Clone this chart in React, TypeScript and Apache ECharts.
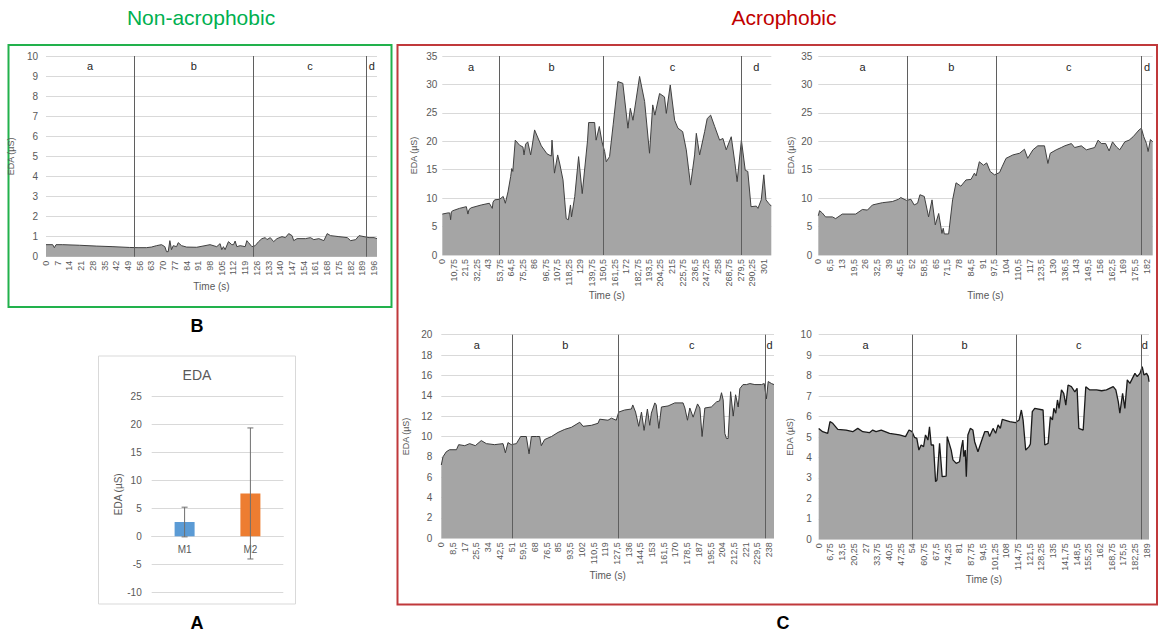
import React, { useEffect, useRef } from "react";
import * as echarts from "echarts";

// ---------- DATA ----------
const phaseNames = ["a", "b", "c", "d"];

// Non-acrophobic subject: [time s, EDA µS]
const nonAcroData: [number, number][] = [
  [0, 0.6], [4, 0.6], [5, 0.45], [6, 0.6], [10, 0.6], [20, 0.57], [30, 0.53], [40, 0.5], [50, 0.46],
  [55, 0.45], [60, 0.45], [63, 0.48], [66, 0.55], [69, 0.6], [71, 0.5], [72, 0.25], [73, 0.25],
  [74, 0.8], [75, 0.35], [76, 0.55], [78, 0.5], [79, 0.7], [81, 0.55], [84, 0.48], [90, 0.47],
  [95, 0.55], [98, 0.6], [102, 0.5], [104, 0.65], [105, 0.35], [106, 0.5], [107, 0.35], [109, 0.75],
  [111, 0.6], [112, 0.6], [113, 0.78], [114, 0.5], [116, 0.55], [119, 0.5], [120, 0.8], [121, 0.7],
  [123, 0.5], [125, 0.55], [127, 0.75], [129, 0.9], [131, 0.95], [132, 0.85], [134, 0.95], [136, 0.75],
  [138, 0.9], [141, 1.0], [143, 0.95], [145, 1.15], [147, 1.05], [148, 0.8], [150, 0.9], [155, 0.9],
  [158, 0.95], [160, 0.85], [163, 0.9], [166, 0.8], [168, 1.15], [170, 1.05], [175, 1.0], [180, 0.95],
  [182, 0.8], [185, 0.85], [187, 1.05], [190, 1.0], [193, 0.95], [196, 0.95], [197.75, 0.9],
];
const nonAcroPhases = [52.5, 124, 191.5];

// Acrophobic subject 1
const acro1Data: [number, number][] = [
  [0, 7.2], [5.3, 7.4], [7, 7.4], [7.8, 6.2], [8.5, 7.6], [10, 7.8], [16, 8.2], [22.5, 8.5], [24, 7.2],
  [25, 8.0], [27, 8.3], [36.5, 8.8], [44, 9.1], [46.8, 8.2], [47.5, 9.3], [49, 9.7], [53.7, 9.8],
  [57, 10.3], [59, 9.1], [61.5, 11.1], [64, 13.8], [65, 15.2], [66, 14.7], [68.3, 20.2], [72.4, 19.3],
  [75.5, 19.0], [76.5, 17.6], [78, 19.5], [80, 19.9], [82.7, 17.6], [84, 19], [86.4, 22], [92.7, 19.2],
  [98, 17.8], [102, 17.4], [102.7, 20.2], [105, 14.4], [108, 17.6], [110, 16], [113, 13.2], [116, 6.4],
  [118, 6.2], [120, 8.8], [121, 6.7], [124, 10.3], [127.6, 17.3], [131, 10.8], [136, 20.2], [137, 23.3],
  [142.6, 23.3], [144, 20.2], [147, 22.6], [149.5, 19.9], [152, 18.2], [153.5, 16.4], [156.6, 17.3],
  [160, 23], [164.4, 30.5], [169, 30.2], [173.8, 22.3], [176, 25.8], [178.5, 23.7], [184.7, 31.4],
  [189.4, 27], [194, 17.9], [197, 26.4], [199, 24.6], [203.4, 28.4], [208, 27.8], [209.7, 24.9],
  [213.4, 29.9], [217.5, 23.7], [220.6, 22.3], [225, 21.7], [228.4, 18.5], [232.4, 12.3], [236.2, 17.6],
  [237.8, 21.4], [240.9, 17.6], [245.6, 21.7], [248, 24], [251.2, 24.6], [255, 22.6], [259.6, 20.2],
  [262.7, 20.5], [265.8, 18.5], [270.5, 20.8], [274, 16.1], [276, 12.9], [280, 20.2], [283.6, 14.9],
  [286, 14.7], [289, 8.5], [294, 8.6], [295.5, 8.2], [298.6, 9.7], [301, 14.1], [303, 9.7], [305.5, 9.1],
  [308, 8.6],
];
const acro1Phases = [53.75, 151, 280];

// Acrophobic subject 2
const acro2Data: [number, number][] = [
  [0, 6.9], [0.7, 7.8], [2.2, 7.4], [4, 6.7], [7.8, 6.7], [9.6, 6.4], [13.3, 7.2], [20.7, 7.2], [24.4, 8],
  [27.2, 7.9], [30, 8.8], [35.5, 9.2], [41, 9.4], [44.4, 9.8], [45.7, 10.1], [48.9, 9.6], [51.3, 9.8],
  [53.1, 8.8], [55, 9.1], [56.3, 10.6], [58.7, 10.3], [61.1, 6.7], [63, 9.7], [64.8, 5.3], [66.7, 7.3],
  [68.5, 3.8], [69.2, 4.7], [69.8, 3.7], [72.2, 3.7], [74.4, 9.7], [76.3, 12.7], [79, 12.1], [81.8, 13.2],
  [84.6, 13.3], [86.5, 14.4], [87.4, 13.9], [89.2, 16.4], [91.5, 15.8], [93.3, 16.2], [95.2, 14.7],
  [97.6, 14.1], [100.4, 14.5], [101.8, 15.5], [104, 17], [107.8, 17.6], [111.5, 17.9], [114.2, 18.6],
  [116, 17], [118.9, 18.5], [121.6, 19.2], [125.3, 19.2], [127.2, 16.1], [128.5, 17.9], [131.8, 18.5],
  [134.6, 18.9], [136.5, 19.2], [140.2, 19.6], [142, 18.9], [145.7, 19.2], [148.5, 18.5], [153.1, 18.9],
  [155, 20.2], [156.8, 19.6], [159.2, 19.6], [161.1, 18.3], [163, 19.9], [165.2, 19], [167, 18.5],
  [169.8, 19.9], [172.2, 20.2], [174.4, 20.8], [177.7, 22], [179, 22.3], [180.3, 20.8], [181.8, 19.6],
  [182.7, 18.2], [184, 20.3], [185.25, 19.9],
];
const acro2Phases = [49, 98.5, 179];

// Acrophobic subject 3
const acro3Data: [number, number][] = [
  [0, 7.2], [1.2, 8.0], [3.6, 8.5], [6, 8.7], [11, 8.7], [12.6, 9.2], [17, 9.1], [20.6, 9.3], [24.7, 9.1],
  [29, 9.6], [32.7, 9.3], [38.7, 9.2], [44.8, 9.3], [46.5, 8.4], [48.4, 9.4], [50.8, 9.2], [54.5, 9.3],
  [57.6, 10.0], [61.7, 10.0], [63.7, 8.3], [65.4, 10.0], [69, 10.0], [71.4, 10.0], [72.6, 9.1], [75, 9.7],
  [80, 10.0], [84.7, 10.4], [89.6, 10.7], [94.4, 10.9], [100.5, 11.4], [102.9, 11.0], [109, 11.1],
  [113.8, 11.3], [115, 11.7], [121, 11.6], [123.5, 11.8], [127, 11.6], [128.8, 12.4], [133, 12.6],
  [138, 12.7], [139, 13.1], [141, 12.4], [143.3, 11.0], [145.3, 12.4], [147.2, 10.6], [149.6, 12.7],
  [151.3, 11.1], [152.5, 12.3], [155, 13.3], [156, 13.1], [157.9, 10.8], [159.8, 12.9], [164.6, 13.0],
  [169.5, 13.3], [175.5, 13.3], [176.8, 12.8], [178.7, 11.6], [180.4, 12.8], [182.8, 11.9], [186, 13.2],
  [187.7, 12.8], [189.3, 10.0], [191.3, 12.8], [196, 12.9], [199.8, 13.4], [202, 13.5], [203.4, 14.3],
  [204.6, 13.6], [205.8, 10.3], [207, 9.8], [208.2, 9.8], [210, 14.4], [211.9, 12.0], [213.6, 14.1],
  [215.5, 12.9], [216.7, 14.7], [219, 15.1], [221.5, 15.1], [224, 15.2], [227.6, 15.1], [232.4, 15.1],
  [234.4, 15.2], [236, 13.7], [237.3, 15.4], [239.7, 15.2], [241.5, 15.1],
];
const acro3Phases = [51.5, 128.5, 235];

// Acrophobic subject 4
const acro4Data: [number, number][] = [
  [0, 5.42], [2.3, 5.26], [5.2, 5.18], [6.5, 5.75], [8.1, 5.67], [11, 5.37], [15.8, 5.34], [19.6, 5.26],
  [22.5, 5.42], [25.4, 5.26], [29.2, 5.21], [31.1, 5.34], [33, 5.26], [36, 5.34], [40.8, 5.18], [46.5, 5.1],
  [50, 5.02], [52, 5.34], [53.8, 5.26], [55.2, 4.98], [56.5, 4.93], [57.7, 4.36], [59, 4.61], [60.4, 4.53],
  [61.5, 5.1], [62.9, 4.85], [63.8, 5.5], [64.8, 4.61], [66.1, 4.61], [67.3, 2.82], [68.1, 2.9], [69.6, 4.69],
  [71.1, 3.06], [73.4, 3.09], [74, 5.02], [76.3, 4.36], [77.3, 3.88], [79.2, 3.71], [81.1, 3.79],
  [82.1, 4.45], [83, 4.85], [83.6, 4.04], [84.4, 4.36], [85, 3.06], [85.9, 5.1], [87.3, 5.42], [88.8, 5.34],
  [89.8, 4.77], [91.7, 4.28], [93.6, 4.77], [95.6, 5.26], [97.5, 5.26], [98.4, 5.02], [100.4, 5.42],
  [101.9, 5.18], [103.3, 5.59], [104.6, 5.42], [105.7, 5.86], [110, 5.75], [113.3, 5.7], [115.4, 5.83],
  [116.7, 6.32], [117.7, 5.83], [119.2, 4.36], [121.1, 4.53], [121.9, 4.66], [123, 6.24], [124.4, 6.4],
  [129.2, 6.32], [130.2, 4.61], [132.1, 4.69], [133.4, 5.99], [134.6, 5.83], [135.4, 6.4], [136.5, 6.16],
  [137.5, 6.81], [138.4, 6.4], [139.8, 7.3], [141.1, 7.13], [142.3, 6.56], [143.6, 7.54], [145.5, 7.46],
  [147.5, 7.21], [148.8, 7.38], [149.8, 5.42], [152.3, 5.34], [153.8, 7.46], [156.1, 7.3], [160, 7.3],
  [162.9, 7.26], [165.7, 7.3], [169.6, 7.46], [171.1, 7.3], [172.5, 6.73], [173.4, 6.16], [175, 7.13],
  [176.3, 6.4], [177.7, 7.79], [179.2, 7.62], [182.1, 8.11], [183.4, 7.95], [185, 8.11], [186.3, 8.44],
  [187.3, 8.03], [188.8, 8.11], [189.8, 7.95], [190.2, 7.7],
];
const acro4Phases = [54, 114, 185.5];

// Bar chart (A)
const barCategories = ["M1", "M2"];
const barMeans = [2.55, 7.65];
const barSD = [2.65, 11.7];
const barColors = ["#5b9bd5", "#ed7d31"];

const FONT = "Liberation Sans, Arial, sans-serif";
const LABEL_COLOR = "#595959";

type Panel = {
  data: [number, number][];
  phases: number[];
  xMax: number;
  xStep: number;
  yMax: number;
  yStep: number;
  labelY: number;
  grid: { left: number; top: number; width: number; height: number };
  yMargin: number;
  yNameGap: number;
  xNameGap: number;
  lineColor: string;
  lineWidth: number;
};

export default function App() {
  const ref = useRef<HTMLDivElement>(null);

  useEffect(() => {
    if (!ref.current) return;
    const chart = echarts.init(ref.current, null, { renderer: "svg" });

    const panels: Panel[] = [
      { data: nonAcroData, phases: nonAcroPhases, xMax: 197.75, xStep: 7, yMax: 10, yStep: 1, labelY: 9.5,
        grid: { left: 46, top: 56, width: 331, height: 200.7 }, yMargin: 8, yNameGap: 31, xNameGap: 25,
        lineColor: "#404040", lineWidth: 1 },
      { data: acro1Data, phases: acro1Phases, xMax: 308, xStep: 10.75, yMax: 35, yStep: 5, labelY: 33.1,
        grid: { left: 442.3, top: 56, width: 329, height: 199 }, yMargin: 5, yNameGap: 24, xNameGap: 35,
        lineColor: "#404040", lineWidth: 1 },
      { data: acro2Data, phases: acro2Phases, xMax: 185.25, xStep: 6.5, yMax: 35, yStep: 5, labelY: 33.1,
        grid: { left: 818.3, top: 56, width: 334.4, height: 199 }, yMargin: 6, yNameGap: 23, xNameGap: 35,
        lineColor: "#404040", lineWidth: 1 },
      { data: acro3Data, phases: acro3Phases, xMax: 241.5, xStep: 8.5, yMax: 20, yStep: 2, labelY: 19,
        grid: { left: 441.3, top: 334.7, width: 332.7, height: 203.6 }, yMargin: 9, yNameGap: 31, xNameGap: 32,
        lineColor: "#3a3a3a", lineWidth: 1 },
      { data: acro4Data, phases: acro4Phases, xMax: 190.2, xStep: 6.75, yMax: 10, yStep: 1, labelY: 9.5,
        grid: { left: 818.7, top: 334.7, width: 330.3, height: 204.6 }, yMargin: 7, yNameGap: 24, xNameGap: 31,
        lineColor: "#1a1a1a", lineWidth: 1.3 },
    ];

    const grids: any[] = [];
    const xAxes: any[] = [];
    const yAxes: any[] = [];
    const series: any[] = [];

    panels.forEach((p, i) => {
      grids.push({ ...p.grid, containLabel: false });
      xAxes.push({
        type: "value",
        gridIndex: i,
        min: 0,
        max: p.xMax,
        interval: p.xStep,
        axisLine: { show: false },
        axisTick: { show: false },
        splitLine: { show: false },
        axisLabel: {
          rotate: 90,
          fontSize: 9,
          fontFamily: FONT,
          color: LABEL_COLOR,
          margin: 4,
          showMaxLabel: false,
          formatter: (v: number) => String(v).replace(".", ","),
        },
        name: "Time (s)",
        nameLocation: "middle",
        nameGap: p.xNameGap,
        nameTextStyle: { fontSize: 10, fontFamily: FONT, color: LABEL_COLOR },
      });
      yAxes.push({
        type: "value",
        gridIndex: i,
        min: 0,
        max: p.yMax,
        interval: p.yStep,
        axisLine: { show: false },
        axisTick: { show: false },
        splitLine: { lineStyle: { color: "#d9d9d9", width: 1 } },
        axisLabel: { fontSize: 10, fontFamily: FONT, color: LABEL_COLOR, margin: p.yMargin },
        name: "EDA (µS)",
        nameLocation: "middle",
        nameGap: p.yNameGap,
        nameTextStyle: { fontSize: 9, fontFamily: FONT, color: LABEL_COLOR },
      });
      const bounds = [0, ...p.phases, p.xMax];
      series.push({
        type: "line",
        xAxisIndex: i,
        yAxisIndex: i,
        data: p.data,
        symbol: "none",
        showSymbol: false,
        lineStyle: { color: p.lineColor, width: p.lineWidth },
        areaStyle: { color: "#a5a5a5", opacity: 1 },
        markLine: {
          silent: true,
          symbol: "none",
          label: { show: false },
          lineStyle: { color: "#5f5f5f", width: 1, type: "solid" },
          data: p.phases.map((x) => ({ xAxis: x })),
        },
        markPoint: {
          silent: true,
          symbol: "circle",
          symbolSize: 0,
          label: {
            show: true,
            position: "inside",
            formatter: "{b}",
            fontSize: 11,
            fontFamily: FONT,
            color: "#262626",
          },
          data: phaseNames.map((n, k) => ({
            name: n,
            coord: [(bounds[k] + bounds[k + 1]) / 2, p.labelY],
          })),
        },
      });
    });

    // Bar chart (A)
    const bi = panels.length;
    grids.push({ left: 151.7, top: 396.3, width: 131.6, height: 196, containLabel: false });
    xAxes.push({
      type: "category",
      gridIndex: bi,
      data: barCategories,
      position: "bottom",
      offset: -56,
      axisLine: { show: true, onZero: false, lineStyle: { color: "#d9d9d9" } },
      axisTick: { show: false },
      axisLabel: { fontSize: 10, fontFamily: FONT, color: LABEL_COLOR, margin: 8 },
    });
    yAxes.push({
      type: "value",
      gridIndex: bi,
      min: -10,
      max: 25,
      interval: 5,
      axisLine: { show: false },
      axisTick: { show: false },
      splitLine: { lineStyle: { color: "#d9d9d9" } },
      axisLabel: { fontSize: 10, fontFamily: FONT, color: LABEL_COLOR, margin: 10 },
      name: "EDA (µS)",
      nameLocation: "middle",
      nameGap: 28,
      nameTextStyle: { fontSize: 10, fontFamily: FONT, color: LABEL_COLOR },
    });
    series.push({
      type: "bar",
      xAxisIndex: bi,
      yAxisIndex: bi,
      barWidth: 20,
      data: barMeans.map((v, i) => ({ value: v, itemStyle: { color: barColors[i] } })),
    });
    series.push({
      type: "custom",
      xAxisIndex: bi,
      yAxisIndex: bi,
      z: 5,
      data: barMeans.map((m, i) => [i, m - barSD[i], m + barSD[i]]),
      encode: { x: 0, y: [1, 2] },
      renderItem: (_params: any, api: any) => {
        const idx = api.value(0);
        const top = api.coord([idx, api.value(2)]);
        const bot = api.coord([idx, api.value(1)]);
        const hw = 3;
        const st = { stroke: "#6f6f6f", lineWidth: 1 };
        return {
          type: "group",
          children: [
            { type: "line", shape: { x1: top[0], y1: top[1], x2: bot[0], y2: bot[1] }, style: st },
            { type: "line", shape: { x1: top[0] - hw, y1: top[1], x2: top[0] + hw, y2: top[1] }, style: st },
            { type: "line", shape: { x1: bot[0] - hw, y1: bot[1], x2: bot[0] + hw, y2: bot[1] }, style: st },
          ],
        };
      },
    });

    const graphic: any[] = [
      { type: "rect", silent: true, z: 0, shape: { x: 8.5, y: 45, width: 383, height: 262 },
        style: { fill: "none", stroke: "#22b14c", lineWidth: 2 } },
      { type: "rect", silent: true, z: 0, shape: { x: 397.5, y: 45, width: 759.5, height: 559.5 },
        style: { fill: "none", stroke: "#c0393b", lineWidth: 2 } },
      { type: "rect", silent: true, z: 0, shape: { x: 98.5, y: 356, width: 197, height: 248 },
        style: { fill: "none", stroke: "#d9d9d9", lineWidth: 1 } },
      { type: "text", x: 201, y: 17, style: { text: "Non-acrophobic", align: "center", verticalAlign: "middle",
        fontSize: 21, fontFamily: FONT, fill: "#00b050" } },
      { type: "text", x: 784, y: 17, style: { text: "Acrophobic", align: "center", verticalAlign: "middle",
        fontSize: 21, fontFamily: FONT, fill: "#c00000" } },
      { type: "text", x: 197, y: 326, style: { text: "B", align: "center", verticalAlign: "middle",
        fontSize: 18, fontWeight: "bold", fontFamily: FONT, fill: "#000000" } },
      { type: "text", x: 197, y: 623, style: { text: "A", align: "center", verticalAlign: "middle",
        fontSize: 18, fontWeight: "bold", fontFamily: FONT, fill: "#000000" } },
      { type: "text", x: 783, y: 623, style: { text: "C", align: "center", verticalAlign: "middle",
        fontSize: 18, fontWeight: "bold", fontFamily: FONT, fill: "#000000" } },
      { type: "text", x: 197, y: 375, style: { text: "EDA", align: "center", verticalAlign: "middle",
        fontSize: 14, fontFamily: FONT, fill: LABEL_COLOR } },
    ];

    chart.setOption({
      animation: false,
      backgroundColor: "#ffffff",
      grid: grids,
      xAxis: xAxes,
      yAxis: yAxes,
      series,
      graphic,
    });

    return () => chart.dispose();
  }, []);

  return (
    <div
      ref={ref}
      style={{ position: "fixed", left: 0, top: 0, width: 1159, height: 636, background: "#fff" }}
    />
  );
}
